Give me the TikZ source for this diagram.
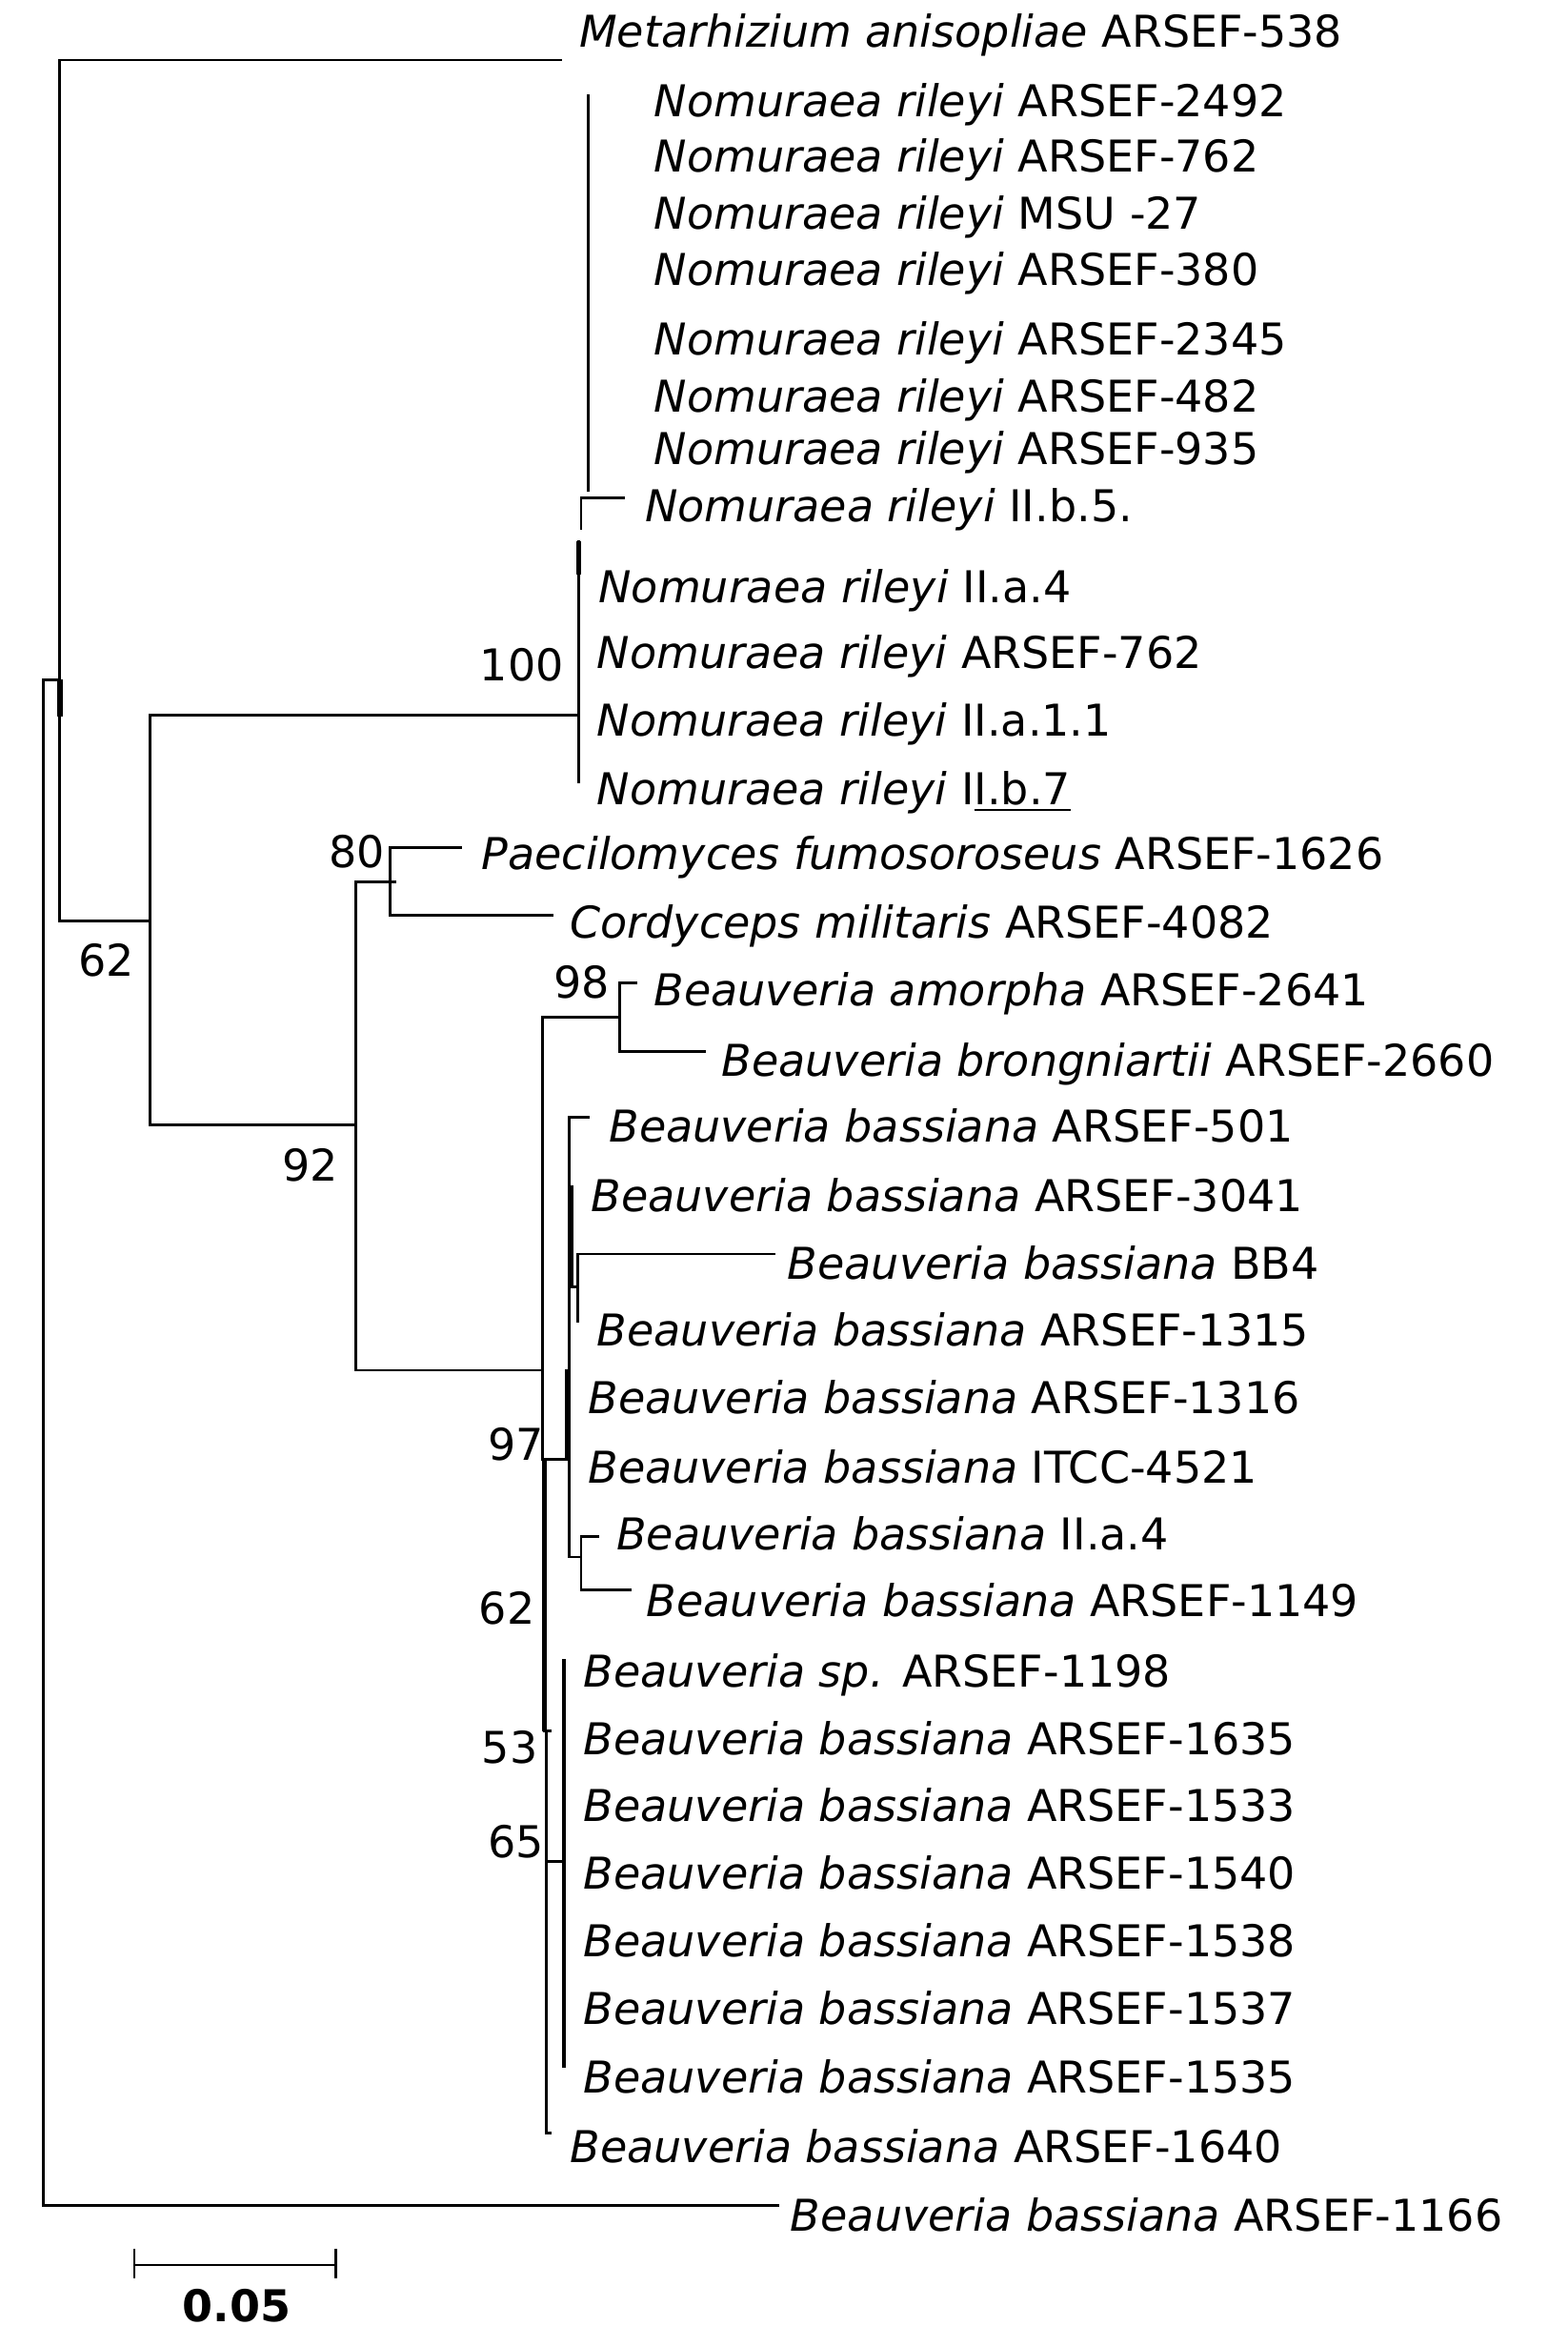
\documentclass[tikz,border=0pt]{standalone}
\usepackage{fontspec}
\setmainfont{DejaVu Sans}
\newcommand{\ulseg}[1]{\setbox0\hbox{#1}\rlap{\rule[-3.2pt]{\wd0}{1.1pt}}\box0}
\begin{document}
\begin{tikzpicture}[x=0.7871pt,y=-0.7871pt,
  br/.style={line width=1.45pt,line cap=rect},
  thk/.style={line width=2.6pt},
  leaf/.style={anchor=base west,inner sep=0pt,font=\fontsize{23}{27}\selectfont},
  boot/.style={anchor=center,inner sep=0pt,font=\fontsize{23}{27}\selectfont}]
\useasboundingbox[fill=white] (0,0) rectangle (1045,1564);
\newcommand{\leaf}[5]{\node[leaf] (#1) at (#2,#3+9.5) {\textit{#4} #5};}
% leaves
\leaf{met}{386}{22}{Metarhizium anisopliae}{ARSEF-538}
\leaf{n1}{436}{68}{Nomuraea rileyi}{ARSEF-2492}
\leaf{n2}{436}{105}{Nomuraea rileyi}{ARSEF-762}
\leaf{n3}{436}{143}{Nomuraea rileyi}{MSU -27}
\leaf{n4}{436}{181}{Nomuraea rileyi}{ARSEF-380}
\leaf{n5}{436}{227}{Nomuraea rileyi}{ARSEF-2345}
\leaf{n6}{436}{265}{Nomuraea rileyi}{ARSEF-482}
\leaf{n7}{436}{300}{Nomuraea rileyi}{ARSEF-935}
\leaf{n8}{430}{338}{Nomuraea rileyi}{II.b.5.}
\leaf{n9}{399}{392}{Nomuraea rileyi}{II.a.4}
\leaf{n10}{398}{436}{Nomuraea rileyi}{ARSEF-762}
\leaf{n11}{398}{481}{Nomuraea rileyi}{II.a.1.1}
\leaf{n12}{398}{527}{Nomuraea rileyi}{I\ulseg{I.b.7}}
\leaf{pae}{321}{570}{Paecilomyces fumosoroseus}{ARSEF-1626}
\leaf{cor}{380}{616}{Cordyceps militaris}{ARSEF-4082}
\leaf{bam}{436}{661}{Beauveria amorpha}{ARSEF-2641}
\leaf{bbr}{481}{708}{Beauveria brongniartii}{ARSEF-2660}
\leaf{b501}{406}{752}{Beauveria bassiana}{ARSEF-501}
\leaf{b3041}{394}{798}{Beauveria bassiana}{ARSEF-3041}
\leaf{bb4}{525}{843}{Beauveria bassiana}{BB4}
\leaf{b1315}{398}{888}{Beauveria bassiana}{ARSEF-1315}
\leaf{b1316}{392}{933}{Beauveria bassiana}{ARSEF-1316}
\leaf{itcc}{392}{979}{Beauveria bassiana}{ITCC-4521}
\leaf{bIIa}{411}{1024}{Beauveria bassiana}{II.a.4}
\leaf{b1149}{431}{1068}{Beauveria bassiana}{ARSEF-1149}
\leaf{bsp}{389}{1115}{Beauveria sp.}{ARSEF-1198}
\leaf{b1635}{389}{1160}{Beauveria bassiana}{ARSEF-1635}
\leaf{b1533}{389}{1205}{Beauveria bassiana}{ARSEF-1533}
\leaf{b1540}{389}{1250}{Beauveria bassiana}{ARSEF-1540}
\leaf{b1538}{389}{1295}{Beauveria bassiana}{ARSEF-1538}
\leaf{b1537}{389}{1340}{Beauveria bassiana}{ARSEF-1537}
\leaf{b1535}{389}{1386}{Beauveria bassiana}{ARSEF-1535}
\leaf{b1640}{380}{1432}{Beauveria bassiana}{ARSEF-1640}
\leaf{b1166}{527}{1478}{Beauveria bassiana}{ARSEF-1166}
% bootstrap values
\node[boot] (s100) at (348,443) {100};
\node[boot] (s80) at (238,568) {80};
\node[boot] (s62a) at (71,640) {62};
\node[boot] (s92) at (207,777) {92};
\node[boot] (s98) at (388,655) {98};
\node[boot] (s97) at (344,963) {97};
\node[boot] (s62b) at (338,1072) {62};
\node[boot] (s53) at (340,1165) {53};
\node[boot] (s65) at (344,1228) {65};
% internal nodes
\coordinate (root) at (29,453);
\coordinate (nA) at (39.5,453);
\coordinate (n62) at (100,614);
\coordinate (nNom) at (386,477);
\coordinate (n92) at (237,750);
\coordinate (nB) at (362,913.5);
\coordinate (n98) at (413.5,678);
% branches
\draw[br] (root) -- (nA);
\draw[br] (root) |- (519,1470);
\draw[br] (374,40) -| (39.5,614) -- (n62);
\draw[thk] (40,453) -- (40,478);
\draw[br] (nNom) -| (100,750) -- (n92);
\draw[br] (392,64) -- (392,327);
\draw[br] (387.5,352) |- (416,332);
\draw[br] (386,361) -- (386,521);
\draw[thk] (386,361) -- (386,383);
\draw[br] (237,588) -- (237,913.5) -- (nB);
\draw[br] (237,588) -- (263.5,588);
\draw[br] (307,565) -| (260,610) -- (368,610);
\draw[br] (n98) -| (362,973);
\draw[br] (424,655) -| (413.5,701) -- (469.5,701);
\draw[br] (392.5,745) -| (379.5,1038) -- (387.5,1038);
\draw[thk] (381,790) -- (381,858);
\draw[thk] (378.5,913) -- (378.5,973);
\draw[br] (381,858) -- (385.5,858);
\draw[br] (516,836) -| (385.5,880.5);
\draw[br] (362,973) -- (379.5,973);
\draw[br] (398.6,1024.5) -| (387.5,1060) -- (420,1060);
\draw[thk] (363,973) -- (363,1154);
\draw[br] (363,1154) -- (367,1154);
\draw[br] (364.5,1154) |- (367,1422);
\draw[br] (364.5,1241) -- (376,1241);
\draw[line width=2pt] (376,1106) -- (376,1378.5);
% scale bar
\draw[br] (89.6,1510) -- (224,1510);
\draw[br] (89.6,1500) -- (89.6,1518);
\draw[br] (224,1500) -- (224,1518);
\node[boot,font=\fontsize{23}{27}\selectfont\bfseries] (sc) at (158,1537) {0.05};
\end{tikzpicture}
\end{document}
